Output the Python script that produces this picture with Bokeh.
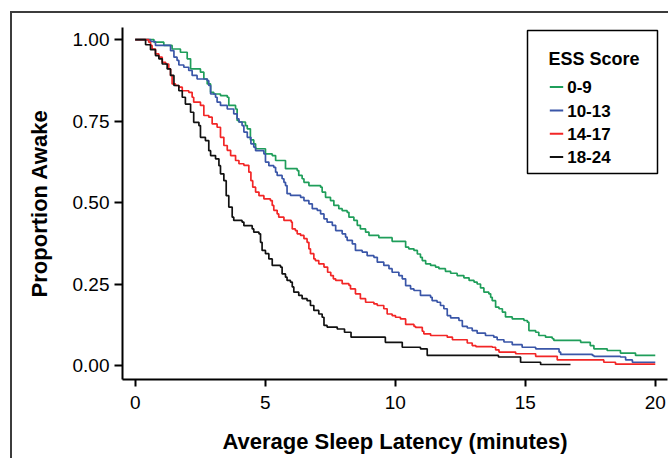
from bokeh.plotting import figure
from bokeh.models import Range1d, FixedTicker, PrintfTickFormatter, BoxAnnotation, Label
from bokeh.embed import file_html
from bokeh.resources import INLINE

# ---- data ----
group_labels = ["0-9", "10-13", "14-17", "18-24"]
group_colors = ["#1f9e5a", "#3a56a8", "#f22626", "#111111"]
legend_title = "ESS Score"

t_0_9 = [0, 0.72, 1.10, 1.42, 1.74, 2.00, 2.13, 2.51, 2.64, 2.77, 2.90, 3.02, 3.28, 3.54, 3.60, 3.86, 3.92,
         3.99, 4.24, 4.31, 4.43, 4.56, 4.63, 5.01, 5.27, 5.40, 5.78, 6.23, 6.29, 6.42, 6.49, 6.68, 7.13,
         7.19, 7.32, 7.51, 7.64, 7.83, 7.96, 8.15, 8.22, 8.41, 8.54, 8.66, 8.86, 8.99, 9.37, 9.88, 10.40,
         10.52, 10.72, 10.85, 10.97, 11.04, 11.17, 11.36, 11.55, 11.68, 11.93, 12.13, 12.38, 12.64, 12.84,
         13.03, 13.15, 13.28, 13.41, 13.60, 13.67, 13.73, 13.86, 13.99, 14.12, 14.24, 14.50, 14.95, 15.08,
         15.14, 15.40, 15.52, 15.78, 16.04, 16.10, 17.13, 17.50, 17.64, 18.15, 18.66, 19.24, 20.0]
s_0_9 = [1.0, 0.992, 0.982, 0.971, 0.961, 0.941, 0.910, 0.900, 0.879, 0.864, 0.838, 0.833, 0.828, 0.823, 0.798,
         0.787, 0.752, 0.747, 0.736, 0.726, 0.692, 0.680, 0.665, 0.649, 0.644, 0.629, 0.604, 0.598, 0.583,
         0.573, 0.562, 0.552, 0.547, 0.532, 0.516, 0.506, 0.491, 0.481, 0.475, 0.470, 0.455, 0.445, 0.430,
         0.419, 0.409, 0.399, 0.392, 0.381, 0.363, 0.358, 0.353, 0.342, 0.332, 0.322, 0.312, 0.307, 0.302,
         0.297, 0.289, 0.283, 0.276, 0.269, 0.261, 0.256, 0.250, 0.238, 0.225, 0.220, 0.209, 0.199, 0.179,
         0.174, 0.164, 0.149, 0.143, 0.138, 0.133, 0.107, 0.102, 0.092, 0.087, 0.082, 0.077, 0.071, 0.061,
         0.051, 0.046, 0.038, 0.031, 0.031]

t_10_13 = [0, 0.59, 0.78, 1.36, 1.49, 1.61, 1.68, 1.87, 2.06, 2.19, 2.38, 2.77, 2.83, 2.90, 3.09, 3.15, 3.28,
           3.54, 3.79, 3.92, 3.99, 4.11, 4.18, 4.31, 4.45, 4.56, 4.63, 4.95, 5.01, 5.14, 5.33, 5.40, 5.46,
           5.65, 5.72, 5.78, 5.84, 5.97, 6.36, 6.49, 6.68, 6.81, 7.00, 7.13, 7.26, 7.38, 7.58, 7.71, 7.96,
           8.09, 8.15, 8.35, 8.47, 8.73, 8.92, 9.18, 9.31, 9.56, 9.76, 9.88, 10.14, 10.27, 10.40, 10.59,
           10.72, 10.97, 11.36, 11.42, 11.61, 11.74, 11.87, 12.00, 12.13, 12.45, 12.58, 12.77, 12.96, 13.15,
           13.47, 13.79, 13.92, 14.18, 14.50, 14.88, 15.40, 16.30, 16.36, 17.58, 17.64, 18.66, 18.86, 19.12,
           20.0]
s_10_13 = [1.0, 0.994, 0.982, 0.966, 0.946, 0.936, 0.922, 0.915, 0.905, 0.890, 0.879, 0.874, 0.859, 0.833,
           0.823, 0.808, 0.798, 0.787, 0.772, 0.757, 0.747, 0.736, 0.716, 0.700, 0.680, 0.670, 0.659, 0.649,
           0.624, 0.613, 0.608, 0.593, 0.583, 0.573, 0.562, 0.552, 0.527, 0.522, 0.516, 0.506, 0.496, 0.481,
           0.476, 0.465, 0.450, 0.440, 0.430, 0.414, 0.404, 0.394, 0.384, 0.373, 0.353, 0.348, 0.337, 0.332,
           0.317, 0.307, 0.297, 0.286, 0.276, 0.266, 0.245, 0.235, 0.230, 0.215, 0.209, 0.199, 0.194, 0.184,
           0.174, 0.153, 0.146, 0.138, 0.120, 0.115, 0.107, 0.099, 0.092, 0.087, 0.079, 0.072, 0.064, 0.056,
           0.051, 0.041, 0.034, 0.031, 0.028, 0.026, 0.017, 0.010, 0.010]

t_14_17 = [0, 0.52, 0.59, 0.65, 0.78, 0.91, 1.04, 1.17, 1.29, 1.36, 1.42, 1.55, 1.68, 1.81, 2.06, 2.19, 2.25,
           2.51, 2.64, 2.83, 2.96, 3.15, 3.28, 3.41, 3.54, 3.67, 3.86, 3.99, 4.18, 4.37, 4.45, 4.52, 4.63,
           4.76, 4.95, 5.20, 5.27, 5.33, 5.46, 5.52, 5.72, 6.00, 6.04, 6.16, 6.23, 6.36, 6.49, 6.61, 6.68,
           6.74, 6.87, 6.93, 7.06, 7.26, 7.40, 7.52, 7.62, 7.71, 7.96, 8.22, 8.28, 8.47, 8.66, 8.86, 9.18,
           9.31, 9.56, 9.69, 9.88, 10.01, 10.20, 10.40, 10.72, 10.78, 11.04, 11.10, 11.36, 12.00, 12.20,
           12.77, 12.96, 13.10, 13.73, 13.86, 13.99, 14.63, 15.40, 16.23, 18.02, 18.47, 20.0]
s_14_17 = [1.0, 0.992, 0.982, 0.971, 0.956, 0.946, 0.930, 0.925, 0.910, 0.890, 0.864, 0.859, 0.854, 0.843,
           0.838, 0.823, 0.808, 0.798, 0.767, 0.762, 0.741, 0.731, 0.700, 0.675, 0.660, 0.644, 0.629, 0.619,
           0.614, 0.593, 0.567, 0.547, 0.532, 0.521, 0.511, 0.506, 0.491, 0.476, 0.465, 0.455, 0.445, 0.440,
           0.419, 0.414, 0.404, 0.399, 0.389, 0.378, 0.358, 0.343, 0.327, 0.322, 0.312, 0.302, 0.286, 0.276,
           0.266, 0.261, 0.251, 0.246, 0.235, 0.220, 0.205, 0.194, 0.189, 0.184, 0.174, 0.158, 0.153, 0.148,
           0.143, 0.126, 0.120, 0.117, 0.105, 0.097, 0.092, 0.087, 0.079, 0.069, 0.061, 0.058, 0.056, 0.048,
           0.041, 0.036, 0.028, 0.017, 0.010, 0.004, 0.004]

t_18_24 = [0, 0.40, 0.59, 0.78, 0.91, 1.04, 1.23, 1.36, 1.49, 1.68, 1.81, 1.93, 2.13, 2.25, 2.45, 2.51, 2.70,
           2.83, 2.90, 3.09, 3.22, 3.28, 3.41, 3.50, 3.60, 3.73, 3.79, 4.11, 4.18, 4.50, 4.56, 4.76, 4.82,
           4.88, 5.01, 5.14, 5.27, 5.59, 5.65, 5.78, 5.84, 5.97, 6.04, 6.10, 6.29, 6.42, 6.61, 6.74, 6.87,
           7.06, 7.19, 7.26, 7.38, 7.77, 8.05, 8.30, 9.62, 10.27, 10.97, 11.23, 13.97, 14.82, 15.59, 16.74]
s_18_24 = [1.0, 0.984, 0.969, 0.951, 0.941, 0.925, 0.910, 0.890, 0.859, 0.843, 0.823, 0.802, 0.777, 0.746,
           0.736, 0.700, 0.690, 0.659, 0.644, 0.634, 0.613, 0.588, 0.567, 0.521, 0.486, 0.455, 0.445, 0.440,
           0.429, 0.419, 0.409, 0.404, 0.378, 0.353, 0.343, 0.327, 0.307, 0.302, 0.281, 0.271, 0.261, 0.256,
           0.241, 0.225, 0.215, 0.205, 0.199, 0.184, 0.169, 0.158, 0.148, 0.123, 0.118, 0.112, 0.102, 0.087,
           0.071, 0.056, 0.051, 0.031, 0.026, 0.010, 0.003, 0.003]

x_ticks = [0, 5, 10, 15, 20]
y_ticks = [0.0, 0.25, 0.5, 0.75, 1.0]

series_t = [t_0_9, t_10_13, t_14_17, t_18_24]
series_s = [s_0_9, s_10_13, s_14_17, s_18_24]

FONT = "'Liberation Sans', Arial, sans-serif"

# canvas starts at page (12, 13); the outer frame is drawn as a CSS shadow strip
p = figure(width=658, height=447, output_backend="svg", toolbar_location=None,
           x_range=Range1d(-0.488, 20.47), y_range=Range1d(-0.043, 1.037),
           min_border_left=110, min_border_right=3, min_border_top=14, min_border_bottom=81)
p.margin = (13, 0, 0, 12)
p.styles = {"box-shadow": "-2px -2px 0px 0px #3c3c3c"}

p.outline_line_color = None
p.xgrid.grid_line_color = None
p.ygrid.grid_line_color = None
p.background_fill_color = "white"
p.border_fill_color = "white"

for lab, col, ts, ss in zip(group_labels, group_colors, series_t, series_s):
    p.step(x=ts, y=ss, mode="after", line_color=col, line_width=1.7, name=lab)

for ax in (p.xaxis[0], p.yaxis[0]):
    ax.axis_line_width = 2
    ax.axis_line_color = "black"
    ax.major_tick_line_width = 2
    ax.major_tick_line_color = "black"
    ax.major_tick_in = 0
    ax.minor_tick_line_color = None
    ax.major_label_text_font = FONT
    ax.major_label_text_font_size = "19px"
    ax.major_label_text_color = "black"
    ax.axis_label_text_font = FONT
    ax.axis_label_text_font_size = "22px"
    ax.axis_label_text_font_style = "bold"
    ax.axis_label_text_color = "black"

p.xaxis.ticker = FixedTicker(ticks=x_ticks)
p.yaxis.ticker = FixedTicker(ticks=y_ticks)
p.yaxis.formatter = PrintfTickFormatter(format="%.2f")
p.xaxis.major_tick_out = 7
p.yaxis.major_tick_out = 8
p.xaxis.major_label_standoff = 9
p.yaxis.major_label_standoff = 5
p.xaxis.axis_label = "Average Sleep Latency (minutes)"
p.yaxis.axis_label = "Proportion Awake"
p.xaxis.axis_label_standoff = 17
p.yaxis.axis_label_standoff = 18

# ---- legend (box, title, swatches, labels) in canvas pixels ----
OX, OY = 12, 13  # canvas origin on the page
def cx(v):
    return v - OX
def cy(v):
    return v - OY

p.add_layout(BoxAnnotation(left=cx(527), right=cx(657), top=cy(30), bottom=cy(173),
                           left_units="canvas", right_units="canvas",
                           top_units="canvas", bottom_units="canvas",
                           fill_color="white", fill_alpha=1,
                           line_color="black", line_alpha=1, line_width=1.5))
p.add_layout(Label(x=cx(548), y=cy(58), x_units="canvas", y_units="canvas", text=legend_title,
                   text_font=FONT, text_font_size="18px", text_font_style="bold",
                   text_color="black", text_baseline="middle", text_align="left"))
row_centers = [86.5, 110, 133.3, 156.5]
for lab, col, yc in zip(group_labels, group_colors, row_centers):
    p.add_layout(BoxAnnotation(left=cx(549.3), right=cx(562.7), top=cy(yc - 1), bottom=cy(yc + 1),
                               left_units="canvas", right_units="canvas",
                               top_units="canvas", bottom_units="canvas",
                               fill_color=col, fill_alpha=1, line_alpha=0))
    p.add_layout(Label(x=cx(566.7), y=cy(yc), x_units="canvas", y_units="canvas", text=lab,
                       text_font=FONT, text_font_size="17px", text_font_style="bold",
                       text_color="black", text_baseline="middle", text_align="left"))

open("out.html", "w").write(file_html(p, INLINE))
